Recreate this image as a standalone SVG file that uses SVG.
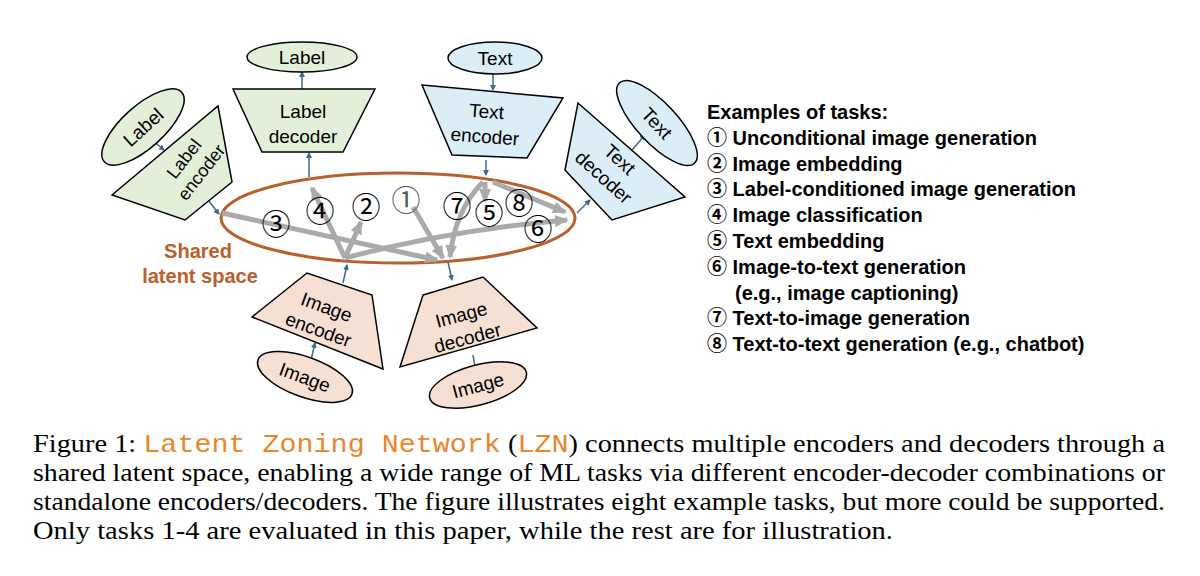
<svg xmlns="http://www.w3.org/2000/svg" width="1200" height="576" viewBox="0 0 1200 576">
<style>
.g{fill:#e2f0d9;stroke:#000;stroke-width:1.5}
.b{fill:#dbeef8;stroke:#000;stroke-width:1.5}
.p{fill:#f6e0d3;stroke:#000;stroke-width:1.5}
.t{font-family:"Liberation Sans","Noto Sans CJK SC",sans-serif;font-size:19px;text-anchor:middle;fill:#000}
.n{font-family:"Liberation Sans","Noto Sans CJK SC",sans-serif;font-size:29px;text-anchor:middle;fill:#000}
.l{font-family:"Liberation Sans","Noto Sans CJK SC",sans-serif;font-size:20px;font-weight:bold;fill:#000}
.c{font-family:"Liberation Serif",serif;font-size:26px;fill:#000}
.m{font-family:"Liberation Mono",monospace;fill:#e8862e}
.a{stroke:#3d6a8e;stroke-width:1.5;fill:none;marker-end:url(#sa)}
.ga{stroke:#aaaaaa;stroke-width:5;fill:none;marker-end:url(#ga)}
</style>
<defs>
<marker id="sa" markerWidth="6" markerHeight="6" refX="5" refY="3" orient="auto" markerUnits="userSpaceOnUse"><path d="M0,0L6,3L0,6z" fill="#3d6a8e"/></marker>
<marker id="ga" markerWidth="14" markerHeight="12" refX="12" refY="6" orient="auto" markerUnits="userSpaceOnUse"><path d="M0,0L14,6L0,12z" fill="#aaaaaa"/></marker>
</defs>
<rect width="1200" height="576" fill="#fff"/>
<g id="latent">
<ellipse cx="398" cy="218" rx="177" ry="45" fill="none" stroke="#b9602c" stroke-width="3"/>
<text class="l" style="fill:#b9602c;text-anchor:middle" x="198" y="258">Shared</text>
<text class="l" style="fill:#b9602c;text-anchor:middle" x="200" y="283">latent space</text>
</g>
<g id="connectors">
<line class="a" x1="302" y1="89" x2="302" y2="72"/>
<line class="a" x1="309" y1="177" x2="309" y2="153"/>
<line class="a" x1="152" y1="140" x2="164" y2="150"/>
<line class="a" x1="208" y1="200" x2="219" y2="214"/>
<line class="a" x1="311" y1="360" x2="315" y2="343"/>
<line class="a" x1="343" y1="283" x2="347" y2="265"/>
<line class="a" x1="493" y1="74" x2="493" y2="90"/>
<line class="a" x1="486" y1="160" x2="486" y2="175"/>
<line class="a" x1="577" y1="213" x2="590" y2="200"/>
<line class="a" x1="632" y1="150" x2="645" y2="135"/>
<line class="a" x1="448" y1="262" x2="452" y2="280"/>
<line class="a" x1="473" y1="355" x2="476" y2="372"/>
<path class="ga" d="M222,213 L437,260"/>
<path class="ga" d="M345,258 L312,188"/>
<path class="ga" d="M345,258 L361,222"/>
<path class="ga" d="M345,258 Q450,230 567,220"/>
<path class="ga" d="M413,207 L443,258"/>
<path class="ga" d="M483,182 Q455,210 450,257"/>
<path class="ga" d="M485,182 L485,201"/>
<path class="ga" d="M493,182 L565,212"/>
</g>
<g id="nums">
<text class="n" x="276" y="235">③</text>
<text class="n" x="320" y="222">④</text>
<text class="n" x="366" y="218">②</text>
<text class="n" x="406" y="211" style="fill:#555">①</text>
<text class="n" x="457" y="217">⑦</text>
<text class="n" x="489" y="224">⑤</text>
<text class="n" x="519" y="214">⑧</text>
<text class="n" x="538" y="240">⑥</text>
</g>
<g id="label-out"><ellipse class="g" cx="302" cy="57" rx="55" ry="15"/><text class="t" x="302" y="64">Label</text></g>
<g id="label-decoder"><polygon class="g" points="233,89 375,89 343,152 262,152"/><text class="t" x="303" y="118">Label</text><text class="t" x="303" y="143">decoder</text></g>
<g id="label-in"><ellipse class="g" cx="0" cy="0" rx="52" ry="21" transform="translate(143,127) rotate(-42)"/><text class="t" transform="translate(143,127) rotate(-42)" y="7">Label</text></g>
<g id="label-encoder"><polygon class="g" points="112,195 218,106 232,182 185,220"/><g transform="translate(192,165) rotate(-52)"><text class="t" y="-4" style="font-size:18px">Label</text><text class="t" y="18" style="font-size:18px">encoder</text></g></g>
<g id="text-in"><ellipse class="b" cx="495" cy="58" rx="47" ry="16"/><text class="t" x="495" y="65">Text</text></g>
<g id="text-encoder"><polygon class="b" points="422,85 563,98 527,158 452,155"/><g transform="translate(486,120) rotate(4)"><text class="t" y="-2">Text</text><text class="t" y="23">encoder</text></g></g>
<g id="text-out"><ellipse class="b" cx="0" cy="0" rx="55" ry="20" transform="translate(657,123) rotate(47)"/><text class="t" transform="translate(657,123) rotate(47)" y="7">Text</text></g>
<g id="text-decoder"><polygon class="b" points="578,103 685,197 612,220 565,170"/><g transform="translate(612,168) rotate(42)"><text class="t" y="-5">Text</text><text class="t" y="19">decoder</text></g></g>
<g id="image-in"><ellipse class="p" cx="0" cy="0" rx="50" ry="20" transform="translate(305,377) rotate(20)"/><text class="t" transform="translate(305,377) rotate(20)" y="7">Image</text></g>
<g id="image-encoder"><polygon class="p" points="252,317 307,273 372,295 383,369"/><g transform="translate(323,317) rotate(20)"><text class="t" y="-4">Image</text><text class="t" y="20">encoder</text></g></g>
<g id="image-decoder"><polygon class="p" points="423,295 483,277 537,328 400,367"/><g transform="translate(464,325) rotate(-15)"><text class="t" y="-4">Image</text><text class="t" y="20">decoder</text></g></g>
<g id="image-out"><ellipse class="p" cx="0" cy="0" rx="50" ry="20" transform="translate(478,385) rotate(-15)"/><text class="t" transform="translate(478,385) rotate(-15)" y="7">Image</text></g>
<g id="legend">
<text class="l" x="707" y="119">Examples of tasks:</text>
<text class="l" x="707" y="145">① Unconditional image generation</text>
<text class="l" x="707" y="171">② Image embedding</text>
<text class="l" x="707" y="196">③ Label-conditioned image generation</text>
<text class="l" x="707" y="222">④ Image classification</text>
<text class="l" x="707" y="248">⑤ Text embedding</text>
<text class="l" x="707" y="274">⑥ Image-to-text generation</text>
<text class="l" x="735" y="300">(e.g., image captioning)</text>
<text class="l" x="707" y="325">⑦ Text-to-image generation</text>
<text class="l" x="707" y="351">⑧ Text-to-text generation (e.g., chatbot)</text>
</g>
<g id="caption">
<text class="c" x="33" y="452" textLength="1132" lengthAdjust="spacingAndGlyphs">Figure 1: <tspan class="m">Latent Zoning Network</tspan> (<tspan class="m">LZN</tspan>) connects multiple encoders and decoders through a</text>
<text class="c" x="33" y="481" textLength="1132" lengthAdjust="spacingAndGlyphs">shared latent space, enabling a wide range of ML tasks via different encoder-decoder combinations or</text>
<text class="c" x="33" y="510" textLength="1132" lengthAdjust="spacingAndGlyphs">standalone encoders/decoders. The figure illustrates eight example tasks, but more could be supported.</text>
<text class="c" x="33" y="539" textLength="860" lengthAdjust="spacingAndGlyphs">Only tasks 1-4 are evaluated in this paper, while the rest are for illustration.</text>
</g>
</svg>
